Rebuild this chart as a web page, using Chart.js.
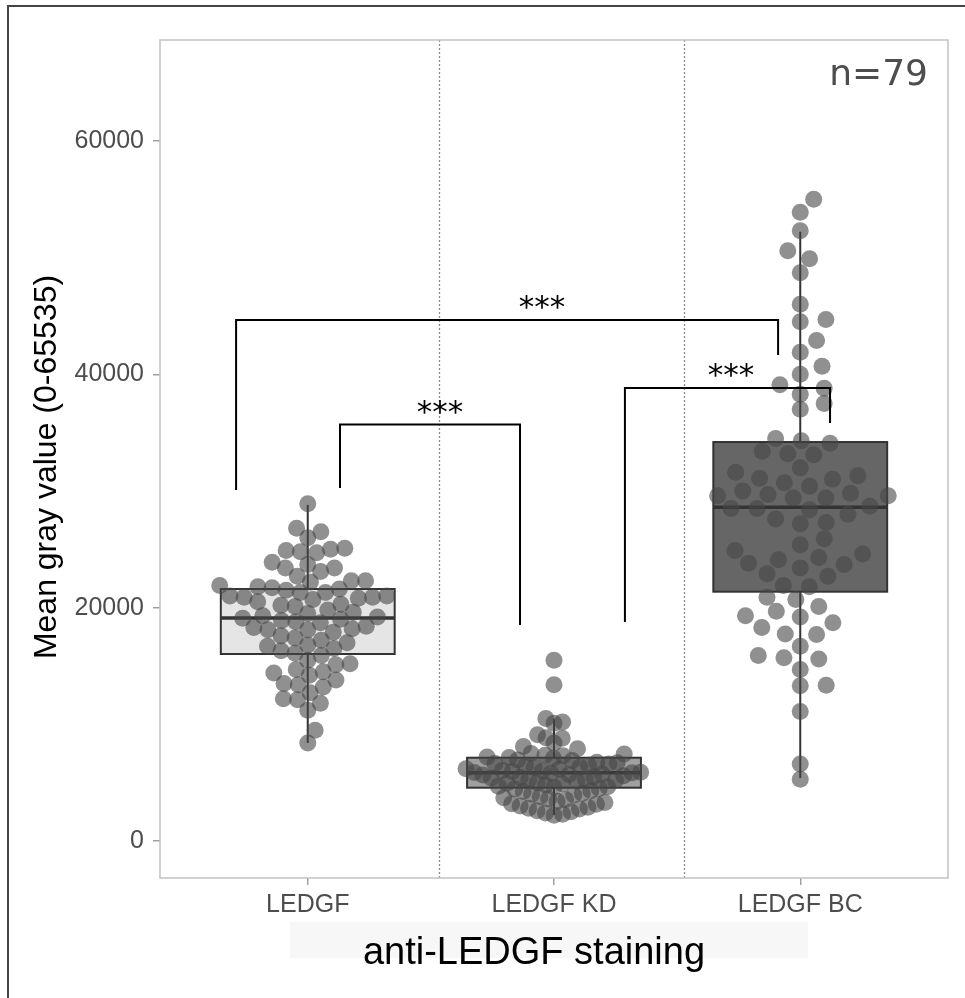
<!DOCTYPE html>
<html>
<head>
<meta charset="utf-8">
<script src="https://cdn.jsdelivr.net/npm/chart.js@4.4.0/dist/chart.umd.min.js"></script>
<style>
  html, body { margin: 0; padding: 0; background: #fff; }
  #wrap { width: 965px; height: 998px; }
</style>
</head>
<body>
<div id="wrap"><canvas id="box-chart" width="965" height="998"></canvas></div>
<script>
// groups on the x axis
const categories = ['LEDGF', 'LEDGF KD', 'LEDGF BC'];
const yTicks = [0, 20000, 40000, 60000];

// individual cells (mean gray value)
const ledgf = [
  28900, 26800, 26500, 26000, 25100, 24900, 24700, 25000, 24800,
  23900, 23400, 23100, 23700, 23400, 22700, 22300,
  22300, 21700, 20900, 21000, 21500, 21300, 20800, 21900, 22200, 21600, 21000, 21300, 20700, 20900, 20500, 21800,
  20100, 20200, 19100, 19500, 18800, 19200, 18700, 19000, 19600, 19300,
  18200, 18400, 18900, 18100, 18100, 17600, 17400, 17200, 17900, 18300,
  16700, 16500, 16800, 16100, 15900, 16300, 17000,
  15200, 15100, 14700, 14200, 14500, 14400, 15500,
  13200, 13500, 13400, 12700, 13800,
  12100, 12200, 11200, 11800,
  9500, 8400, 20300, 19800
];
const ledgfKD = [
  15500, 13400, 10500, 10200, 10100, 9100, 8800, 8850, 8400, 8100, 7900, 7500,
  7450, 7300, 7350, 7200, 7150, 7100, 6950, 6900, 6750, 6700, 6650, 6500, 6450, 6300, 6200,
  6150, 6050, 6000, 5950, 5900, 5880, 5850, 5800, 5750, 5700, 5650, 5600, 5500, 5450, 5400, 5300, 5200, 5150, 5000, 4900, 4800, 4700, 4650, 4600,
  4500, 4450, 4300, 4250, 4100, 4000, 3950, 3800, 3700, 3600, 3550, 3400, 3300, 3200, 3150, 3000,
  2900, 2800, 2750, 2600, 2500, 2400, 2300, 2200,
  6600, 6350, 5250, 4950
];
const ledgfBC = [
  55000, 53900, 52300, 50600, 49900, 48700, 46000, 44700, 44500, 42900, 41900, 40700, 40000, 39100, 38800, 38300, 37500, 37000,
  34300, 34500, 34100, 33100, 33400, 33200, 32000, 31600, 31300, 31100, 30700, 31000, 30400, 29800, 29700, 29400, 29600, 29600, 29400,
  28500, 28400, 28700, 28000, 28500, 27600, 27200, 27300, 25900, 25400, 24900, 24600, 24100, 23700, 24300, 23400, 23800, 22900, 22700,
  21900, 21800, 20900, 20700, 20100, 19700, 19300, 19200, 18700, 18300, 17700, 17750, 16700, 15700, 15900, 15600, 14700, 13300, 13350, 11100, 6600, 5300,
  30000
];

// box plot statistics per group
const whiskerLow  = [8400, 2230, 5400];
const boxQ1       = [16030, 4570, 21370];
const boxMedian   = [19110, 5850, 28600];
const boxQ3       = [21600, 7140, 34200];
const whiskerHigh = [28800, 10460, 52220];
const boxFill     = ['#e5e5e5', '#a0a0a0', '#666666'];

// significance brackets: x from / to, height of the bar, feet, label x
const bracketFrom   = [0.709, 1.131, 2.288];
const bracketTo     = [2.910, 1.862, 3.121];
const bracketTop    = [44660, 35700, 38830];
const bracketFootL  = [30090, 30260, 18770];
const bracketFootR  = [41660, 18510, 35830];
const bracketLabelX = [1.951, 1.537, 2.719];
const bracketLabel  = ['***', '***', '***'];

const dividers = [1.533, 2.528];

const groups = [ledgf, ledgfKD, ledgfBC];

// compact swarm layout, in pixels, lowest value first
function swarm(yp, d) {
    const order = yp.map((y, i) => i).sort((a, b) => yp[b] - yp[a]);
    const xs = new Array(yp.length);
    const placed = [];
    order.forEach(i => {
        const y = yp[i];
        const near = placed.filter(j => Math.abs(yp[j] - y) < d);
        const cands = [0];
        near.forEach(j => {
            const dx = Math.sqrt(d * d - (yp[j] - y) * (yp[j] - y));
            cands.push(xs[j] + dx, xs[j] - dx);
        });
        cands.sort((a, b) => Math.abs(a) - Math.abs(b));
        let best = cands[cands.length - 1];
        for (const c of cands) {
            if (near.every(j => (xs[j] - c) ** 2 + (yp[j] - y) ** 2 >= d * d - 0.01)) { best = c; break; }
        }
        xs[i] = best;
        placed.push(i);
    });
    return xs;
}

const decorPlugin = {
    id: 'decor',
    beforeDatasetsDraw(chart) {
        const {ctx, chartArea, scales: {x, y}} = chart;
        ctx.save();
        // dotted dividers
        ctx.strokeStyle = '#8c8c8c';
        ctx.lineWidth = 1.3;
        ctx.setLineDash([2, 2]);
        dividers.forEach(d => {
            const px = Math.round(x.getPixelForValue(d)) + 0.5;
            ctx.beginPath();
            ctx.moveTo(px, chartArea.top);
            ctx.lineTo(px, chartArea.bottom);
            ctx.stroke();
        });
        ctx.setLineDash([]);
        // boxes and whiskers
        const half = 0.353;
        categories.forEach((c, i) => {
            const cx = x.getPixelForValue(i + 1);
            const l = x.getPixelForValue(i + 1 - half);
            const r = x.getPixelForValue(i + 1 + half);
            const top = y.getPixelForValue(boxQ3[i]);
            const bot = y.getPixelForValue(boxQ1[i]);
            ctx.strokeStyle = '#333333';
            ctx.lineWidth = 2;
            ctx.beginPath();
            ctx.moveTo(cx, y.getPixelForValue(whiskerHigh[i]));
            ctx.lineTo(cx, top);
            ctx.moveTo(cx, bot);
            ctx.lineTo(cx, y.getPixelForValue(whiskerLow[i]));
            ctx.stroke();
            ctx.fillStyle = boxFill[i];
            ctx.fillRect(l, top, r - l, bot - top);
            ctx.strokeRect(l, top, r - l, bot - top);
            ctx.lineWidth = 3.5;
            const m = y.getPixelForValue(boxMedian[i]);
            ctx.beginPath();
            ctx.moveTo(l, m);
            ctx.lineTo(r, m);
            ctx.stroke();
        });
        ctx.restore();
    },
    afterDatasetsDraw(chart) {
        const {ctx, chartArea, scales: {x, y}} = chart;
        ctx.save();
        // brackets
        ctx.strokeStyle = '#000';
        ctx.lineWidth = 2;
        bracketFrom.forEach((f, i) => {
            const x1 = x.getPixelForValue(f), x2 = x.getPixelForValue(bracketTo[i]);
            const yt = y.getPixelForValue(bracketTop[i]);
            ctx.beginPath();
            ctx.moveTo(x1, y.getPixelForValue(bracketFootL[i]));
            ctx.lineTo(x1, yt);
            ctx.lineTo(x2, yt);
            ctx.lineTo(x2, y.getPixelForValue(bracketFootR[i]));
            ctx.stroke();
            ctx.fillStyle = '#000';
            ctx.font = '31px "DejaVu Sans"';
            ctx.textAlign = 'center';
            ctx.textBaseline = 'alphabetic';
            ctx.fillText(bracketLabel[i], x.getPixelForValue(bracketLabelX[i]), yt - 3);
        });
        // panel border
        ctx.strokeStyle = '#c2c2c2';
        ctx.lineWidth = 1.5;
        ctx.strokeRect(chartArea.left, chartArea.top, chartArea.right - chartArea.left, chartArea.bottom - chartArea.top);
        ctx.restore();
    },
    afterDraw(chart) {
        const {ctx} = chart;
        ctx.save();
        // outer frame (left and top only)
        ctx.strokeStyle = '#444';
        ctx.lineWidth = 2;
        ctx.beginPath();
        ctx.moveTo(8, 998);
        ctx.lineTo(8, 6);
        ctx.lineTo(965, 6);
        ctx.stroke();
        // n label
        ctx.fillStyle = '#4d4d4d';
        ctx.font = '36px "DejaVu Sans"';
        ctx.textAlign = 'right';
        ctx.textBaseline = 'alphabetic';
        ctx.fillText('n=79', 928, 85);
        // y title
        ctx.save();
        ctx.translate(47, 467);
        ctx.rotate(-Math.PI / 2);
        ctx.fillStyle = '#000';
        ctx.font = '32px "Liberation Sans"';
        ctx.textAlign = 'center';
        ctx.textBaseline = 'middle';
        ctx.fillText('Mean gray value (0-65535)', 0, 0);
        ctx.restore();
        // x title with its light band
        ctx.fillStyle = '#f7f7f7';
        ctx.fillRect(290, 922, 518, 36);
        ctx.fillStyle = '#000';
        ctx.font = '38px "Liberation Sans"';
        ctx.textAlign = 'center';
        ctx.fillText('anti-LEDGF staining', 534, 964);
        ctx.restore();
    }
};

const datasets = groups.map((vals, i) => ({
    label: categories[i],
    data: vals.map(v => ({x: i + 1, y: v})),
    backgroundColor: 'rgba(70,70,70,0.6)',
    borderWidth: 0,
    pointRadius: 8.5,
    pointHoverRadius: 8.5
}));

const config = {
    type: 'scatter',
    data: {datasets: datasets},
    options: {
        responsive: false,
        animation: false,
        devicePixelRatio: 1,
        layout: {padding: {top: 40, right: 17, left: 0, bottom: 0}},
        plugins: {legend: {display: false}, tooltip: {enabled: false}},
        scales: {
            x: {
                type: 'linear',
                min: 0.4,
                max: 3.6,
                afterFit(scale) { scale.height = 120; },
                afterBuildTicks(scale) { scale.ticks = [1, 2, 3].map(v => ({value: v})); },
                ticks: {
                    callback: v => categories[v - 1],
                    color: '#4d4d4d',
                    font: {family: 'Liberation Sans', size: 25},
                    padding: 5,
                    maxRotation: 0
                },
                grid: {drawOnChartArea: false, drawTicks: true, tickLength: 7, color: '#a0a0a0', lineWidth: 1.5},
                border: {display: false}
            },
            y: {
                min: -3170,
                max: 68660,
                afterFit(scale) { scale.width = 160; },
                afterBuildTicks(scale) { scale.ticks = yTicks.map(v => ({value: v})); },
                ticks: {
                    callback: v => String(v),
                    color: '#4d4d4d',
                    font: {family: 'Liberation Sans', size: 25},
                    padding: 9
                },
                grid: {drawOnChartArea: false, drawTicks: true, tickLength: 7, color: '#a0a0a0', lineWidth: 1.5},
                border: {display: false}
            }
        }
    },
    plugins: [decorPlugin]
};

const ctx = document.getElementById('box-chart').getContext('2d');
const chart = new Chart(ctx, config);

// spread the points sideways like a beeswarm, each group fitted to the box width
const unit = chart.scales.x.getPixelForValue(1) - chart.scales.x.getPixelForValue(0);
const maxHalfWidth = 88;
groups.forEach((vals, gi) => {
    const yp = vals.map(v => chart.scales.y.getPixelForValue(v));
    const off = swarm(yp, 15);
    const widest = Math.max(...off.map(Math.abs)) || 1;
    const k = maxHalfWidth / widest;
    chart.data.datasets[gi].data = vals.map((v, j) => ({x: gi + 1 + off[j] * k / unit, y: v}));
});
chart.update('none');
</script>
</body>
</html>
